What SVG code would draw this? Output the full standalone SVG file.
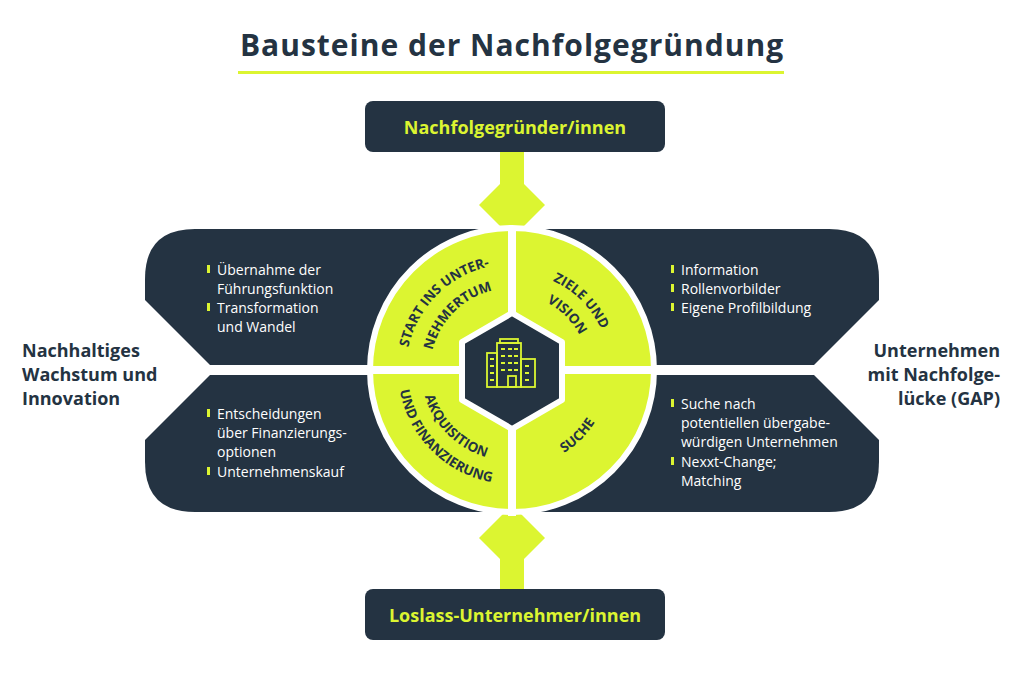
<svg xmlns="http://www.w3.org/2000/svg" width="1024" height="676" viewBox="0 0 1024 676">
<style>
.d{fill:#243342}.l{fill:#dcf531}
.t{font-family:"Open Sans","Liberation Sans",sans-serif}
.b{font-family:"Open Sans","Liberation Sans",sans-serif;font-size:14px;fill:#fff}
.q{font-family:"Open Sans","Liberation Sans",sans-serif;font-size:13.5px;font-weight:700;fill:#243342}
.side{font-family:"Open Sans","Liberation Sans",sans-serif;font-size:18px;font-weight:700;fill:#243342}
</style>
<defs>
<path id="a1" d="M 406.4 379.2 A 106 106 0 0 1 521.2 264.4"/>
<path id="a2" d="M 430.3 377.1 A 82 82 0 0 1 519.1 288.3"/>
<path id="a3" d="M 512 272 A 98 98 0 0 1 610 370"/>
<path id="a4" d="M 512 294 A 76 76 0 0 1 588 370"/>
<path id="a5" d="M 398 370 A 114 114 0 0 0 512 484"/>
<path id="a6" d="M 421 370 A 91 91 0 0 0 512 461"/>
<path id="a7" d="M 512 468 A 98 98 0 0 0 610 370"/>
</defs>
<rect width="1024" height="676" fill="#fff"/>
<text class="t" x="512" y="56" text-anchor="middle" font-size="30" font-weight="700" letter-spacing="1" fill="#243342">Bausteine der Nachfolgegründung</text>
<rect x="238" y="71" width="546" height="3" class="l"/>
<g id="connectors">
<rect x="500" y="152" width="24" height="40" class="l"/>
<polygon points="512,172 545,205 512,238 479,205" class="l"/>
<rect x="500" y="545" width="24" height="44" class="l"/>
<polygon points="512,505 545,538 512,571 479,538" class="l"/>
</g>
<g id="top-box"><rect x="365" y="101" width="300" height="51" rx="8" class="d"/>
<text class="t" x="515" y="134" text-anchor="middle" font-size="18" font-weight="700" fill="#dcf531">Nachfolgegründer/innen</text></g>
<g id="bottom-box"><rect x="365" y="589" width="300" height="51" rx="8" class="d"/>
<text class="t" x="515" y="622" text-anchor="middle" font-size="18" font-weight="700" fill="#dcf531">Loslass-Unternehmer/innen</text></g>
<g id="panels">
<path class="d" d="M512 229 L195 229 Q145 229 145 279 L145 300 L210 365 L512 365Z"/>
<path class="d" d="M512 375 L210 375 L145 440 L145 462 Q145 512 195 512 L512 512Z"/>
<path class="d" d="M512 229 L829 229 Q879 229 879 279 L879 300 L814 365 L512 365Z"/>
<path class="d" d="M512 375 L814 375 L879 440 L879 462 Q879 512 829 512 L512 512Z"/>
</g>
<g id="wheel">
<circle cx="512" cy="370" r="142" class="l" stroke="#fff" stroke-width="6"/>
<rect x="368" y="366" width="288" height="8" fill="#fff"/>
<rect x="508" y="226" width="8" height="290" fill="#fff"/>
<polygon points="512,313 562,342 562,400 512,429 462,400 462,342" class="d" stroke="#fff" stroke-width="6" stroke-linejoin="round"/>
<g fill="none" stroke="#dcf531" stroke-width="1.8">
<rect x="497" y="343" width="24" height="44"/><rect x="500" y="339" width="18" height="4"/>
<rect x="487" y="353" width="10" height="34"/><rect x="521" y="359" width="14" height="28"/>
<rect x="508" y="376" width="8" height="11"/>
<path d="M501 349h4M508 349h4M514 349h4M501 356h4M508 356h4M514 356h4M501 363h4M508 363h4M514 363h4M501 370h4M508 370h4M514 370h4M490 359h4M490 366h4M490 373h4M490 380h4M525 366h4M525 373h4M525 380h4"/>
</g>
</g>
<g id="labels-wheel">
<text class="q"><textPath href="#a1" startOffset="50%" text-anchor="middle">START INS UNTER-</textPath></text>
<text class="q"><textPath href="#a2" startOffset="50%" text-anchor="middle">NEHMERTUM</textPath></text>
<text class="q"><textPath href="#a3" startOffset="50%" text-anchor="middle">ZIELE UND</textPath></text>
<text class="q"><textPath href="#a4" startOffset="50%" text-anchor="middle">VISION</textPath></text>
<text class="q"><textPath href="#a5" startOffset="50%" text-anchor="middle">UND FINANZIERUNG</textPath></text>
<text class="q"><textPath href="#a6" startOffset="50%" text-anchor="middle">AKQUISITION</textPath></text>
<text class="q"><textPath href="#a7" startOffset="50%" text-anchor="middle">SUCHE</textPath></text>
</g>
<g id="bullets" class="l">
<rect x="207" y="265" width="3" height="8"/><rect x="207" y="303" width="3" height="8"/>
<rect x="207" y="409" width="3" height="8"/><rect x="207" y="467" width="3" height="8"/>
<rect x="671" y="265" width="3" height="8"/><rect x="671" y="284" width="3" height="8"/><rect x="671" y="303" width="3" height="8"/>
<rect x="671" y="399" width="3" height="8"/><rect x="671" y="457" width="3" height="8"/>
</g>
<g id="texts">
<text class="b" x="217" y="275">Übernahme der</text>
<text class="b" x="217" y="294">Führungsfunktion</text>
<text class="b" x="217" y="313">Transformation</text>
<text class="b" x="217" y="332">und Wandel</text>
<text class="b" x="217" y="419">Entscheidungen</text>
<text class="b" x="217" y="438">über Finanzierungs-</text>
<text class="b" x="217" y="457">optionen</text>
<text class="b" x="217" y="477">Unternehmenskauf</text>
<text class="b" x="681" y="275">Information</text>
<text class="b" x="681" y="294">Rollenvorbilder</text>
<text class="b" x="681" y="313">Eigene Profilbildung</text>
<text class="b" x="681" y="409">Suche nach</text>
<text class="b" x="681" y="428">potentiellen übergabe-</text>
<text class="b" x="681" y="447">würdigen Unternehmen</text>
<text class="b" x="681" y="467">Nexxt-Change;</text>
<text class="b" x="681" y="486">Matching</text>
</g>
<g id="side-left"><text class="side" x="22" y="357">Nachhaltiges</text><text class="side" x="22" y="381">Wachstum und</text><text class="side" x="22" y="405">Innovation</text></g>
<g id="side-right"><text class="side" x="1000" y="357" text-anchor="end">Unternehmen</text><text class="side" x="1000" y="381" text-anchor="end">mit Nachfolge-</text><text class="side" x="1000" y="405" text-anchor="end">lücke (GAP)</text></g>
</svg>
